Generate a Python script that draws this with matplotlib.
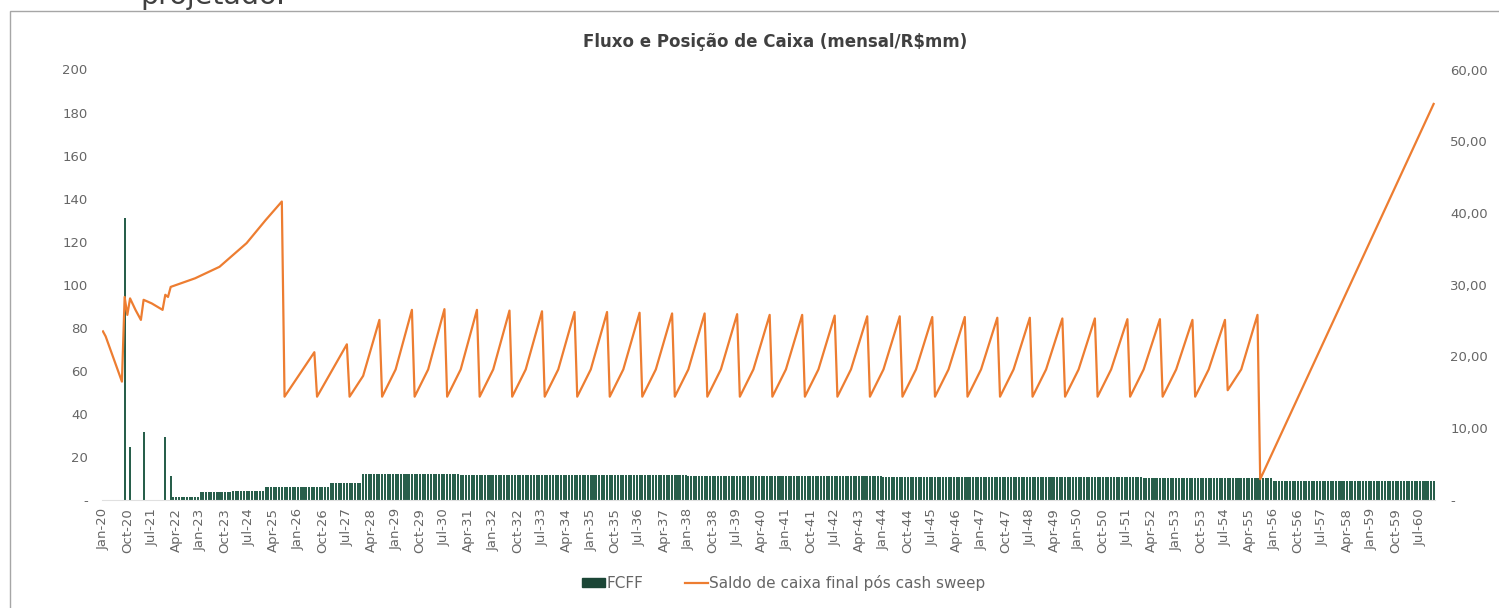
import numpy as np
import pandas as pd
import matplotlib
matplotlib.use("Agg")
import matplotlib.pyplot as plt
from matplotlib.patches import Rectangle, Patch
from matplotlib.lines import Line2D

# monthly axis Jan-20 .. Dec-60
months = pd.date_range("2020-01-01", periods=492, freq="MS")
month_labels = [d.strftime("%b-%y") for d in months]

# FCFF (R$mm) - yearly level of the monthly bars
fcff_years = list(range(2020, 2061))
fcff_level = [0, 0, 1.5, 3.5, 4.3, 6.0, 6.2, 8.0,
              12.0, 11.9, 11.9, 11.8, 11.7, 11.7, 11.6, 11.5, 11.5, 11.4,
              11.3, 11.3, 11.2, 11.1, 11.1, 11.0, 10.9, 10.9, 10.8, 10.7,
              10.7, 10.6, 10.5, 10.5, 10.4, 10.3, 10.3, 10.2,
              9.0, 9.0, 9.0, 9.0, 9.0]
# early months that differ from the yearly level
fcff_spike_month = [8, 10, 15, 23, 24, 25]
fcff_spike_value = [131.0, 24.7, 31.4, 29.4, 0.0, 11.1]

# saldo de caixa (R$mm) - points where the line changes direction
early_month = [0, 1, 7, 8, 9, 10, 12, 14, 15, 18, 22, 23, 24, 25, 34, 43, 53, 60, 66]
early_value = [23.5, 22.8, 16.5, 28.3, 25.8, 28.1, 26.5, 25.1, 27.9, 27.4, 26.5,
               28.6, 28.3, 29.7, 30.9, 32.5, 35.8, 39.0, 41.6]
# yearly cash sweep cycle: low in Aug, bend in Jan, peak in Jul
peak_years = list(range(2026, 2056))
low_value = [14.4] * 29 + [15.3]
bend_value = [None, None, 17.3] + [18.2] * 27
peak_value = [20.6, 21.7, 25.1,
              26.5, 26.6, 26.5, 26.4, 26.3, 26.2, 26.2, 26.1, 26.0, 26.0,
              25.9, 25.8, 25.8, 25.7, 25.6, 25.6, 25.5, 25.5, 25.4, 25.4,
              25.3, 25.3, 25.2, 25.2, 25.1, 25.1, 25.8]
late_month = [427, 491]
late_value = [2.9, 55.2]

# build series
fcff = np.repeat(fcff_level, 12)[:len(months)].astype(float)
fcff[:26] = 0.0
fcff[24:26] = fcff_level[2]
for m, v in zip(fcff_spike_month, fcff_spike_value):
    fcff[m] = v

line_x = list(early_month)
line_y = list(early_value)
for y, lo, bd, pk in zip(peak_years, low_value, bend_value, peak_value):
    base = (y - 2020) * 12
    line_x.append(base - 5)      # Aug of previous year
    line_y.append(lo)
    if bd is not None:
        line_x.append(base)      # Jan
        line_y.append(bd)
    line_x.append(base + 6)      # Jul
    line_y.append(pk)
line_x += late_month
line_y += late_value

W, H = 1499, 608
fig = plt.figure(figsize=(W / 100, H / 100), dpi=100)

fig.text(140 / W, 1 - 4 / H, "projetado.", fontsize=20.5, color="#404040",
         va="baseline", ha="left", zorder=-3)
fig.patches.append(Rectangle((9.5 / W, -0.05), 1.2, 1 - 10.5 / H + 0.05,
                             transform=fig.transFigure, facecolor="white",
                             edgecolor="#a6a6a6", lw=1.0, zorder=-1))

ax = fig.add_axes([101.6 / W, 1 - 500 / H, (1435 - 101.6) / W, (500 - 69.5) / H])
ax2 = ax.twinx()

idx = np.arange(len(months))
ax.bar(idx, fcff, width=0.75, color="#285f4b", zorder=2)
ax2.plot(line_x, line_y, color="#ed7d31", lw=1.6, zorder=3)

ax.set_xlim(-0.5, len(months) - 0.5)
ax.set_ylim(0, 200)
ax2.set_ylim(0, 60)

tick_pos = idx[::9]
ax.set_xticks(tick_pos)
ax.set_xticklabels([month_labels[i] for i in tick_pos], rotation=90,
                   fontsize=9.5, color="#666666")
ax.set_yticks(range(0, 201, 20))
ax.set_yticklabels(["-"] + [str(v) for v in range(20, 201, 20)],
                   fontsize=9.5, color="#666666")
ax2.set_yticks(range(0, 61, 10))
ax2.set_yticklabels(["-"] + ["%d,00" % v for v in range(10, 61, 10)],
                    fontsize=9.5, color="#666666")

for a in (ax, ax2):
    for s in a.spines.values():
        s.set_visible(False)
    a.tick_params(length=0)
ax.spines["bottom"].set_visible(True)
ax.spines["bottom"].set_color("#e0e0e0")
ax.tick_params(axis="y", pad=10)
ax.tick_params(axis="x", pad=6)
ax2.tick_params(axis="y", pad=11)

fig.text(0.517, 1 - 42 / H, r"Fluxo e Posição de Caixa (mensal/R\$mm)",
         fontsize=12, fontweight="bold", color="#404040", ha="center", va="center")

handles = [Patch(color="#1b4636"), Line2D([], [], color="#ed7d31", lw=1.6)]
fig.legend(handles, ["FCFF", "Saldo de caixa final pós cash sweep"],
           loc="center", bbox_to_anchor=(0.523, 1 - 583 / H), ncol=2,
           frameon=False, fontsize=11, handlelength=1.5, handleheight=0.6,
           handletextpad=0.1, columnspacing=2.7, labelcolor="#666666")

fig.savefig("out.png", dpi=100)
